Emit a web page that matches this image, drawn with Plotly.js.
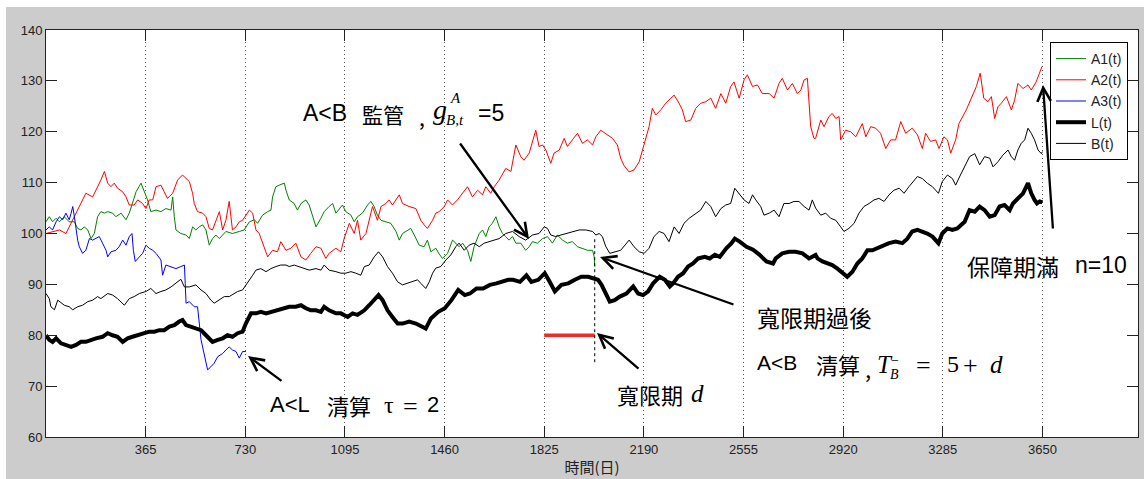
<!DOCTYPE html>
<html><head><meta charset="utf-8">
<script src="https://cdn.plot.ly/plotly-3.0.1.min.js"></script>
<style>
html,body{margin:0;padding:0;background:#fff;width:1144px;height:479px;overflow:hidden}
#chart{position:absolute;left:6px;top:7px;width:1138px;height:472px}
</style>
</head><body><div id="chart"></div>
<script>
// ---------------- data (days, values) ----------------
const xTickVals = [365,730,1095,1460,1825,2190,2555,2920,3285,3650];
const yTickVals = [60,70,80,90,100,110,120,130,140];

const a1Days = [0,12,24,37,49,67,85,104,116,128,140,153,165,177,189,201,214,226,244,256,275,293,305,317,330,348,360,372,384,403,421,439,458,464,470,476,494,513,525,537,549,561,574,586,598,610,622,635,659,683,708,726,745,763,775,793,812,824,830,842,854,873,879,891,909,921,934,952,964,976,989,1007,1019,1037,1050,1062,1074,1086,1098,1117,1129,1141,1159,1178,1190,1202,1214,1227,1245,1263,1282,1294,1306,1324,1336,1349,1367,1385,1397,1410,1428,1440,1452,1471,1489,1501,1513,1526,1544,1556,1568,1587,1599,1611,1623,1635,1648,1660,1672,1684,1696,1709,1721,1739,1757,1770,1782,1800,1819,1837,1855,1873,1892,1910,1928,1947,1965,1983,2002,2008,2010];
const a1Vals = [102.3,103.3,102.3,103.0,102.3,103.3,102.3,102.3,101.0,100.7,101.3,100.7,99.0,100.0,103.3,104.3,104.0,104.3,104.0,103.3,104.0,102.7,104.0,105.9,108.2,109.9,108.2,106.6,104.3,104.6,104.3,104.9,104.6,107.2,103.3,100.7,100.0,99.7,99.0,101.3,100.7,101.3,101.7,100.7,97.7,99.0,99.7,99.0,100.4,100.0,100.4,100.7,102.3,102.7,102.0,103.6,104.3,104.6,107.2,109.2,109.5,109.9,108.5,106.6,105.9,104.6,105.9,106.6,105.6,103.3,101.3,103.0,104.3,105.3,105.9,104.0,104.9,105.6,104.3,103.6,102.3,103.3,104.0,105.6,106.3,105.3,103.6,102.6,102.3,102.0,100.4,98.7,100.0,100.7,101.0,99.7,97.7,97.4,98.7,96.4,97.1,96.0,95.1,96.1,98.7,98.1,97.4,98.1,96.7,94.5,97.4,100.0,100.7,99.4,101.3,102.0,103.3,101.3,100.0,99.4,98.7,99.4,98.1,98.1,96.7,97.4,98.4,98.1,99.0,99.4,98.1,99.7,98.7,98.1,98.4,97.4,97.1,96.7,96.7,95.4,93.5];

const a2Days = [0,49,73,122,146,171,183,201,214,226,238,250,262,281,293,305,323,336,354,366,378,391,403,421,433,445,464,482,500,513,525,537,543,555,574,586,598,610,622,635,647,659,671,677,683,696,708,720,745,757,769,781,793,812,830,848,860,879,897,915,934,952,970,989,1007,1025,1037,1062,1080,1092,1111,1129,1141,1153,1172,1184,1196,1214,1227,1245,1257,1269,1282,1294,1306,1330,1355,1373,1385,1397,1416,1428,1440,1459,1471,1489,1507,1526,1544,1562,1581,1599,1611,1629,1642,1660,1684,1703,1721,1739,1751,1770,1782,1794,1806,1819,1831,1849,1861,1880,1898,1910,1928,1947,1965,1983,2002,2014,2032,2057,2075,2093,2105,2118,2136,2154,2173,2185,2197,2209,2221,2234,2252,2270,2289,2301,2319,2331,2343,2362,2380,2398,2417,2435,2453,2472,2490,2508,2520,2539,2557,2569,2588,2606,2624,2649,2667,2685,2697,2716,2734,2752,2765,2777,2789,2795,2801,2813,2819,2838,2850,2868,2880,2893,2905,2911,2929,2948,2966,2990,3003,3021,3039,3057,3076,3094,3112,3131,3149,3173,3192,3210,3222,3240,3259,3271,3289,3302,3314,3332,3344,3371,3396,3408,3422,3435,3450,3463,3475,3487,3499,3518,3536,3548,3560,3579,3597,3609,3627,3640,3648];
const a2Vals = [100.0,100.7,100.0,105.3,107.9,107.2,108.5,110.5,112.2,109.9,109.2,109.9,108.9,108.2,107.2,105.6,105.6,106.6,105.9,104.9,106.6,106.6,109.2,109.5,108.2,106.9,107.9,110.5,111.5,110.8,110.2,107.9,105.9,104.3,104.0,103.3,101.0,100.7,102.3,104.3,100.7,102.6,106.3,103.3,100.7,101.3,102.3,102.6,104.6,104.0,100.7,100.0,98.1,95.4,96.7,96.4,98.4,96.7,97.1,98.1,95.4,94.8,96.1,97.4,97.1,95.1,96.1,97.1,96.4,99.0,102.0,100.0,102.6,98.7,100.0,102.6,105.3,102.6,105.3,105.9,106.6,105.6,106.6,107.6,105.9,105.3,104.9,102.6,101.7,101.0,102.6,104.0,104.3,105.3,106.6,105.6,106.6,107.9,109.2,107.2,108.5,107.6,109.2,107.9,109.2,110.5,112.8,112.2,117.4,115.1,114.4,115.8,118.0,120.3,117.1,117.4,116.4,113.8,115.8,116.4,118.7,117.1,118.4,119.7,117.7,118.4,117.4,119.0,120.3,119.4,118.7,117.4,114.8,113.3,112.1,112.5,114.1,116.4,119.0,121.0,124.6,123.3,124.3,125.6,126.6,127.2,125.6,124.3,122.0,122.3,124.6,125.6,125.9,126.6,124.6,127.5,125.6,128.9,129.8,126.6,130.2,131.2,128.9,129.2,127.5,127.5,126.6,129.5,130.5,128.2,129.5,127.5,128.2,130.2,130.5,125.6,121.0,118.7,118.7,122.3,121.0,123.0,123.6,122.6,123.0,118.4,120.3,120.0,119.0,121.6,119.0,121.0,120.7,119.7,116.7,118.4,118.4,122.0,119.7,120.7,119.4,116.7,119.7,118.1,118.4,116.7,119.0,118.4,115.8,118.4,121.6,124.3,127.5,128.9,131.5,126.6,125.9,126.9,122.6,124.9,125.6,126.9,124.3,126.2,129.5,128.5,129.2,128.2,129.8,131.8,132.8];

const a3Days = [0,12,24,37,49,61,73,85,92,98,104,110,116,122,134,146,159,171,183,195,207,220,226,238,256,268,281,293,305,315,320,327,342,354,366,378,391,403,421,427,439,458,476,494,507,510,513,525,543,555,561,568,576,583,592,604,616,629,647,659,671,683,696,708,720,732];
const a3Vals = [100.7,101.3,100.7,102.3,103.3,102.7,104.0,102.7,104.0,105.3,103.3,100.7,98.7,97.4,96.1,96.7,99.0,98.7,99.0,99.4,98.1,96.7,95.4,96.4,96.7,97.4,98.7,97.7,99.4,100.0,96.7,94.5,95.4,96.1,97.7,97.1,96.7,96.1,94.8,91.8,93.8,93.5,93.1,93.5,93.8,90.2,86.3,86.6,85.6,85.6,82.3,79.1,77.1,75.1,73.2,73.8,74.5,75.8,76.4,77.1,77.7,77.1,76.8,75.5,76.8,76.8];

const lDays = [0,12,24,37,55,73,92,110,128,146,165,183,207,226,244,262,281,299,317,342,360,378,397,415,433,452,470,488,500,513,531,549,568,586,610,629,647,665,683,702,720,732,751,769,787,806,824,842,867,891,915,934,952,970,989,1007,1019,1037,1062,1080,1105,1123,1141,1166,1184,1202,1218,1233,1251,1269,1288,1306,1330,1355,1373,1391,1410,1437,1461,1485,1510,1534,1553,1577,1601,1626,1650,1675,1693,1711,1736,1760,1778,1803,1827,1845,1864,1888,1913,1937,1961,1986,2004,2022,2035,2053,2065,2083,2102,2126,2151,2169,2187,2205,2224,2248,2267,2285,2297,2315,2334,2352,2370,2389,2413,2431,2450,2468,2492,2511,2523,2541,2566,2590,2614,2639,2663,2673,2697,2722,2746,2771,2795,2819,2826,2844,2862,2880,2899,2917,2935,2954,2972,2990,3009,3027,3045,3064,3088,3112,3137,3155,3173,3192,3210,3228,3247,3269,3283,3302,3320,3338,3365,3383,3402,3420,3438,3457,3475,3493,3511,3530,3542,3560,3579,3597,3609,3621,3630,3640,3650];
const lVals = [80.0,79.1,78.7,79.4,78.4,78.1,77.7,78.1,78.7,78.7,79.1,79.4,79.7,80.4,80.0,79.7,78.7,79.4,79.7,80.0,80.4,80.7,80.7,81.0,81.0,81.7,82.0,82.7,83.0,82.0,81.7,81.4,81.0,80.0,78.7,79.1,79.4,80.0,79.7,80.4,80.7,82.3,84.3,84.3,84.6,84.3,84.6,84.9,85.3,85.6,85.6,85.9,85.3,84.9,84.9,84.6,85.6,84.9,84.3,84.3,83.6,84.3,84.0,84.9,85.9,86.9,87.9,86.9,84.9,83.6,82.3,82.3,82.7,82.3,81.7,81.3,83.3,84.6,85.3,86.9,88.9,87.9,88.2,89.2,89.2,89.9,90.2,90.5,90.9,90.9,90.5,91.8,90.5,90.9,92.2,90.5,88.6,89.9,90.2,90.9,91.5,91.5,91.2,90.9,89.9,87.9,86.6,86.9,87.6,88.2,89.6,88.2,87.9,88.6,90.2,91.5,90.9,89.6,90.2,91.5,92.2,93.5,94.1,95.1,95.4,95.1,95.8,95.4,97.1,98.1,99.0,98.4,97.4,96.8,95.8,94.5,94.1,95.1,96.1,96.4,96.4,96.1,95.1,95.8,95.1,94.5,94.1,93.8,93.1,92.2,91.5,92.5,94.1,95.1,96.7,96.7,97.1,97.4,98.1,98.4,98.1,99.0,100.4,100.7,100.4,100.0,99.4,98.1,100.0,101.0,100.7,101.0,102.3,104.6,104.3,105.3,104.6,103.3,103.6,105.3,105.6,104.6,105.9,106.9,107.9,109.9,107.9,106.6,105.9,106.3,106.1];

const bDays = [0,12,18,31,43,55,67,85,98,116,134,153,171,189,201,226,244,262,287,305,323,342,366,384,403,421,439,458,482,494,507,525,549,568,586,604,616,635,653,671,690,702,720,738,757,769,787,806,824,842,860,879,891,909,928,946,964,989,1007,1019,1037,1062,1080,1098,1117,1135,1153,1166,1184,1202,1218,1233,1251,1269,1288,1306,1324,1342,1361,1373,1391,1404,1416,1428,1446,1465,1483,1501,1513,1532,1550,1568,1587,1605,1623,1642,1660,1684,1709,1733,1757,1782,1806,1825,1837,1849,1867,1886,1904,1928,1953,1977,2002,2014,2026,2038,2050,2065,2087,2105,2136,2154,2173,2191,2209,2227,2246,2264,2282,2301,2319,2337,2356,2380,2398,2417,2435,2453,2472,2490,2508,2523,2539,2557,2575,2588,2600,2618,2630,2649,2667,2685,2703,2722,2740,2758,2777,2795,2807,2819,2838,2856,2874,2893,2911,2923,2941,2960,2978,2996,3015,3033,3051,3070,3088,3106,3125,3143,3161,3179,3192,3210,3228,3247,3269,3283,3302,3320,3332,3346,3365,3383,3402,3420,3438,3457,3469,3487,3505,3524,3536,3548,3560,3572,3585,3597,3609,3621,3634,3646,3650];
const bVals = [88.2,87.2,85.6,85.0,86.9,86.3,85.9,85.6,85.0,85.6,85.9,86.6,86.9,87.6,87.2,88.2,87.9,87.2,85.9,87.2,87.6,88.2,88.6,89.2,88.2,88.6,88.9,89.5,90.5,91.0,89.5,89.5,89.9,88.9,88.2,86.9,86.3,86.9,87.6,87.6,88.2,88.6,88.9,90.2,91.8,92.8,93.1,92.5,93.1,93.5,93.8,93.8,93.5,93.8,93.5,93.1,92.8,93.1,92.8,93.8,92.8,92.5,92.2,92.2,92.5,92.2,91.8,93.5,93.8,95.4,96.4,95.4,93.5,92.2,90.5,89.9,90.2,90.5,90.9,90.2,89.2,90.5,92.2,93.2,93.5,94.8,95.8,97.4,98.1,96.7,97.7,98.1,97.4,98.1,98.4,98.7,99.0,100.0,100.4,99.4,98.7,99.7,100.0,101.3,101.0,99.7,99.4,99.7,100.0,100.4,100.7,100.7,100.4,99.7,100.0,99.4,97.5,96.1,96.4,96.7,98.7,97.4,96.4,96.1,97.1,99.4,100.4,100.0,98.4,101.3,100.0,102.0,103.0,104.0,104.6,106.3,105.3,103.3,104.9,105.6,105.9,108.9,107.9,106.6,105.9,107.6,106.6,105.3,103.6,104.0,104.6,103.3,105.9,105.9,106.3,106.3,105.3,104.6,106.6,105.0,103.6,104.0,103.0,102.6,101.3,100.4,101.0,102.0,104.0,105.3,105.9,106.6,106.9,106.3,107.6,108.5,108.9,107.9,109.2,110.5,111.2,110.8,109.9,109.2,107.9,110.2,111.5,110.8,109.5,111.1,113.1,115.1,115.7,113.5,115.1,114.8,113.1,114.1,115.4,116.4,115.1,114.4,116.4,117.7,118.4,120.7,119.7,118.4,116.4,115.7,116.1];

// grace period marker (A1 falls below B at 1825, liquidated after grace d)
const graceStart = 1825, graceEnd = 2010, graceLevel = 80;
const cutDays = [2010, 2010];
const cutVals = [74.7, 99.3];

// ---------------- layout helpers (page pixels -> paper coords) ----------------
const PL = 46, PR = 1138, PT = 30, PB = 437;
const X = px => (px - PL) / (PR - PL);
const Y = py => (PB - py) / (PB - PT);
const SANS = 'Liberation Sans, Arial, sans-serif';
const CJK = 'Noto Sans CJK TC, Noto Sans CJK SC, sans-serif';
const SERIF = 'Liberation Serif, DejaVu Serif, serif';

function T(text, px, py, size, family){
  return {text:text, x:X(px), y:Y(py), xref:'paper', yref:'paper', xanchor:'left', yanchor:'middle',
    showarrow:false, font:{size:size, family:family, color:'#000'}, borderpad:0};
}
function A(tx, ty, hx, hy){
  return {text:'', x:X(hx), y:Y(hy), xref:'paper', yref:'paper', ax:tx-hx, ay:ty-hy,
    axref:'pixel', ayref:'pixel', showarrow:true, arrowhead:5, arrowsize:1.15, arrowwidth:2.3, arrowcolor:'#000', standoff:0, startstandoff:0};
}

const annotations = [
  // A<B 監管，g^A_{B,t} = 5
  T('A&lt;B', 302, 113, 23, SANS),
  T('監管', 361, 114, 21, CJK),
  T(',', 418, 117, 21, CJK),
  T('<i>g</i>', 432, 110, 28, SERIF),
  T('<i>A</i>', 449, 98, 15, SERIF),
  T('<i>B,t</i>', 445, 120, 15, SERIF),
  T('=5', 477, 113, 23, SANS),
  A(459, 142, 529, 239),
  // 寬限期過後
  T('寬限期過後', 756, 317, 23, CJK),
  A(735, 305, 600, 257),
  // A<B 清算，T_B^- = 5 + d
  T('A&lt;B', 756, 362, 21, SANS),
  T('清算', 815, 364, 22, CJK),
  T(',', 864, 368, 22, CJK),
  T('<i>T</i>', 876, 364, 25, SERIF),
  T('<i>B</i>', 889, 374, 14, SERIF),
  T('−', 890, 360, 14, SERIF),
  T('=', 915, 365, 26, SERIF),
  T('5', 946, 364, 24, SERIF),
  T('+', 962, 365, 26, SERIF),
  T('<i>d</i>', 989, 364, 25, SERIF),
  // 寬限期 d
  T('寬限期', 616, 394, 22, CJK),
  T('<i>d</i>', 690, 393, 25, SERIF),
  A(640, 370, 597, 333),
  // A<L 清算 τ = 2
  T('A&lt;L', 269, 404, 22, SANS),
  T('清算', 326, 405, 22, CJK),
  T('τ', 383, 405, 24, SERIF),
  T('=', 402, 406, 26, SERIF),
  T('2', 426, 404, 22, SANS),
  A(283, 382, 248, 356),
  // 保障期滿 n=10
  T('保障期滿', 966, 266, 23, CJK),
  T('n=10', 1074, 265, 23, SANS),
  A(1053, 230, 1043, 85)
];

const traces = [
  {x:a1Days, y:a1Vals, name:'A1(t)', mode:'lines', line:{color:'#008000', width:1}},
  {x:a2Days, y:a2Vals, name:'A2(t)', mode:'lines', line:{color:'#ff0000', width:1}},
  {x:a3Days, y:a3Vals, name:'A3(t)', mode:'lines', line:{color:'#0000ff', width:1}},
  {x:lDays,  y:lVals,  name:'L(t)',  mode:'lines', line:{color:'#000000', width:4}},
  {x:bDays,  y:bVals,  name:'B(t)',  mode:'lines', line:{color:'#000000', width:1}},
  {x:[graceStart, graceEnd], y:[graceLevel, graceLevel], mode:'lines', showlegend:false, hoverinfo:'skip',
   line:{color:'#ee2a2a', width:3.5}},
  {x:cutDays, y:cutVals, mode:'lines', showlegend:false, hoverinfo:'skip',
   line:{color:'#000000', width:1, dash:'3px,3px'}}
];

const axisCommon = {ticks:'inside', ticklen:11, tickwidth:1, tickcolor:'#222', showline:true, linecolor:'#222', linewidth:1,
  mirror:'ticks', zeroline:false, tickfont:{size:13, family:SANS, color:'#222'}};

const layout = {
  width:1138, height:472,
  margin:{l:40, r:6, t:23, b:42, pad:0},
  paper_bgcolor:'#cccccc', plot_bgcolor:'#ffffff',
  showlegend:true,
  legend:{x:X(1128), y:Y(42), xanchor:'right', yanchor:'top', bgcolor:'#ffffff', bordercolor:'#000', borderwidth:1,
    font:{size:14, family:SANS, color:'#222'}, tracegroupgap:0},
  xaxis:Object.assign({}, axisCommon, {range:[0,4000], tickmode:'array', tickvals:xTickVals,
    showgrid:true, griddash:'1px,3px', gridcolor:'#555', gridwidth:1,
    title:{text:'時間(日)', font:{size:15, family:CJK, color:'#222'}, standoff:6}}),
  yaxis:Object.assign({}, axisCommon, {range:[60,140], tickmode:'array', tickvals:yTickVals, showgrid:false}),
  annotations:annotations
};

Plotly.newPlot('chart', traces, layout, {displayModeBar:false, staticPlot:true});
</script>
</body></html>
